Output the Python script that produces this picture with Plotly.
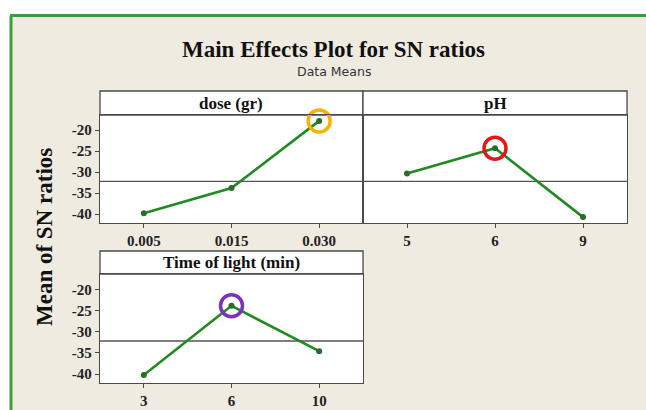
import plotly.graph_objects as go

# ---- data ----
dose_levels = ["0.005", "0.015", "0.030"]
dose_sn = [-39.8, -33.8, -17.8]
ph_levels = ["5", "6", "9"]
ph_sn = [-30.3, -24.3, -40.7]
time_levels = ["3", "6", "10"]
time_sn = [-40.2, -23.9, -34.6]
grand_mean = -32.2
y_ticks = [-20, -25, -30, -35, -40]

panel_titles = ["dose (gr)", "pH", "Time of light (min)"]
best_idx = [2, 1, 1]
best_colors = ["#f4b400", "#e8141c", "#7b33b8"]

W, H = 646, 410
def px(x):
    return x / W
def py(y):
    return 1 - y / H

SERIF = "Liberation Serif, Times New Roman, serif"
LINE_GREEN = "#218a21"
AX = "#4a4a4a"
BEIGE = "#efebe1"

fig = go.Figure()

series = [(dose_levels, dose_sn), (ph_levels, ph_sn), (time_levels, time_sn)]
axes = [("x", "y"), ("x2", "y2"), ("x3", "y3")]

for i, ((lv, vals), (xa, ya)) in enumerate(zip(series, axes)):
    fig.add_trace(go.Scatter(
        x=lv, y=vals, xaxis=xa, yaxis=ya, mode="lines+markers",
        line=dict(color=LINE_GREEN, width=2.6),
        marker=dict(color="#2b6b2b", size=6),
        showlegend=False, hoverinfo="skip"))
    b = best_idx[i]
    fig.add_trace(go.Scatter(
        x=[lv[b]], y=[vals[b]], xaxis=xa, yaxis=ya, mode="markers",
        cliponaxis=False,
        marker=dict(symbol="circle-open", size=22, color=best_colors[i],
                    line=dict(width=3.5, color=best_colors[i])),
        showlegend=False, hoverinfo="skip"))

# panel geometry (pixels)
panels = [
    dict(x0=100, x1=363, strip_top=91, top=115, bottom=223),
    dict(x0=363, x1=627, strip_top=91, top=115, bottom=223),
    dict(x0=100, x1=363, strip_top=251, top=274, bottom=383),
]

yrange = [-42.1, -16.4]
layout_axes = {}
for i, (p, (xa, ya)) in enumerate(zip(panels, axes)):
    xk = "xaxis" if i == 0 else f"xaxis{i+1}"
    yk = "yaxis" if i == 0 else f"yaxis{i+1}"
    layout_axes[xk] = dict(
        domain=[px(p["x0"]), px(p["x1"])], anchor=ya, type="category",
        range=[-0.5, 2.5], showgrid=False, zeroline=False,
        showline=True, mirror=True, linecolor=AX, linewidth=1.3,
        ticks="outside", ticklen=4, tickcolor=AX, tickwidth=1.2,
        tickfont=dict(family=SERIF, size=15, color="#222", weight="bold"),
        fixedrange=True)
    layout_axes[yk] = dict(
        domain=[py(p["bottom"]), py(p["top"])], anchor=xa,
        range=yrange, showgrid=False, zeroline=False,
        showline=True, mirror=True, linecolor=AX, linewidth=1.3,
        tickvals=y_ticks, ticktext=[str(v) for v in y_ticks],
        showticklabels=(i != 1), ticks="outside" if i != 1 else "",
        ticklen=4, tickcolor=AX, tickwidth=1.2,
        tickfont=dict(family=SERIF, size=15, color="#222", weight="bold"),
        fixedrange=True)

shapes = [
    # white margins outside the green frame
    dict(type="rect", xref="paper", yref="paper", x0=0, x1=1, y0=py(15.5), y1=1,
         fillcolor="white", line=dict(width=0), layer="below"),
    dict(type="rect", xref="paper", yref="paper", x0=0, x1=px(10), y0=0, y1=1,
         fillcolor="white", line=dict(width=0), layer="below"),
    # green frame
    dict(type="line", xref="paper", yref="paper", x0=px(10), x1=1, y0=py(15.5), y1=py(15.5),
         line=dict(color="#3d9b3d", width=3), layer="below"),
    dict(type="line", xref="paper", yref="paper", x0=px(11), x1=px(11), y0=0, y1=py(15.5),
         line=dict(color="#3d9b3d", width=3), layer="below"),
]
annotations = []
for i, (p, (xa, ya)) in enumerate(zip(panels, axes)):
    # white plotting area
    shapes.append(dict(type="rect", xref="paper", yref="paper",
                       x0=px(p["x0"]), x1=px(p["x1"]),
                       y0=py(p["bottom"]), y1=py(p["top"]),
                       fillcolor="white", line=dict(width=0), layer="below"))
    # strip
    shapes.append(dict(type="rect", xref="paper", yref="paper",
                       x0=px(p["x0"]), x1=px(p["x1"]),
                       y0=py(p["top"]), y1=py(p["strip_top"]),
                       fillcolor="white", line=dict(color=AX, width=1.3), layer="below"))
    # reference (grand mean) line
    shapes.append(dict(type="line", xref=f"{xa} domain", yref=ya,
                       x0=0, x1=1, y0=grand_mean, y1=grand_mean,
                       line=dict(color="#555", width=1.3), layer="below"))
    annotations.append(dict(text=panel_titles[i], xref="paper", yref="paper",
                            x=px((p["x0"] + p["x1"]) / 2), y=py((p["strip_top"] + p["top"]) / 2),
                            xanchor="center", yanchor="middle", showarrow=False,
                            font=dict(family=SERIF, size=17, color="#111", weight="bold")))

annotations += [
    dict(text="Main Effects Plot for SN ratios", xref="paper", yref="paper",
         x=px(333), y=py(49), xanchor="center", yanchor="middle", showarrow=False,
         font=dict(family=SERIF, size=23, color="#111", weight="bold")),
    dict(text="Data Means", xref="paper", yref="paper",
         x=px(334), y=py(72), xanchor="center", yanchor="middle", showarrow=False,
         font=dict(family="DejaVu Sans", size=12.5, color="#333")),
    dict(text="Mean of SN ratios", xref="paper", yref="paper",
         x=px(45), y=py(237), xanchor="center", yanchor="middle", showarrow=False,
         textangle=-90,
         font=dict(family=SERIF, size=23, color="#111", weight="bold")),
]

fig.update_layout(
    width=W, height=H, margin=dict(l=0, r=0, t=0, b=0),
    paper_bgcolor=BEIGE, plot_bgcolor="white",
    shapes=shapes, annotations=annotations, showlegend=False,
    **layout_axes)

fig.write_html("out.html", config={"displayModeBar": False})

# remove the default page margin so the figure sits at the window's top-left corner
with open("out.html", "r", encoding="utf-8") as f:
    html = f.read()
html = html.replace("<head>", "<head><style>html,body{margin:0;padding:0;overflow:hidden;background:white}</style>", 1)
with open("out.html", "w", encoding="utf-8") as f:
    f.write(html)
